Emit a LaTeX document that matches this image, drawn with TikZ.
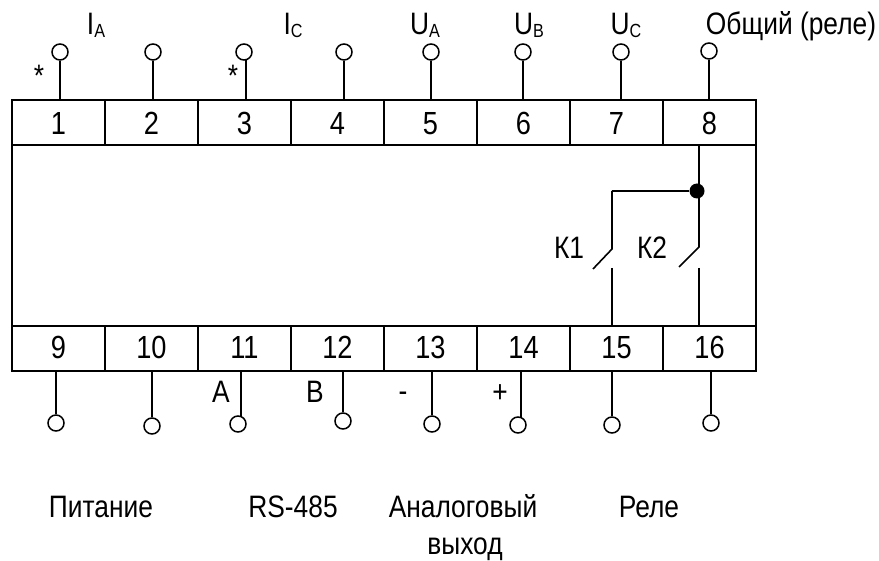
\documentclass[tikz,border=0pt]{standalone}
\usepackage{fontspec}
\setmainfont[FakeStretch=0.85]{Liberation Sans}
\tikzset{
  cell/.style={draw,line width=2pt,minimum width=93pt,minimum height=45pt,inner sep=0pt,text height=23pt,text depth=0pt,font=\fontsize{32}{32}\selectfont},
  lowcell/.style={cell,text depth=3pt},
  term/.style={circle,draw,line width=1.5pt,minimum size=16pt,inner sep=0pt},
  wire/.style={line width=1.6pt},
  lbl/.style={inner sep=0pt,font=\fontsize{31}{31}\selectfont},
  capt/.style={inner sep=0pt,anchor=base,font=\fontsize{31}{31}\selectfont}
}
\newcommand{\sbs}[1]{\raisebox{-3pt}{\fontsize{19}{19}\selectfont #1}}
\begin{document}
\begin{tikzpicture}[x=1pt,y=-1pt]
\useasboundingbox (0,0) rectangle (879,561);
\node[draw,line width=2pt,minimum width=744pt,minimum height=181pt,inner sep=0pt] (body) at (384,235.5) {};
% top row
\node[cell] (c1) at (58.5,122.75) {1};
\node[cell] (c2) at (151.5,122.75) {2};
\node[cell] (c3) at (244.5,122.75) {3};
\node[cell] (c4) at (337.5,122.75) {4};
\node[cell] (c5) at (430.5,122.75) {5};
\node[cell] (c6) at (523.5,122.75) {6};
\node[cell] (c7) at (616.5,122.75) {7};
\node[cell] (c8) at (709.5,122.75) {8};
% bottom row
\node[lowcell] (c9) at (58.5,349) {9};
\node[lowcell] (c10) at (151.5,349) {10};
\node[lowcell] (c11) at (244.5,349) {11};
\node[lowcell] (c12) at (337.5,349) {12};
\node[lowcell] (c13) at (430.5,349) {13};
\node[lowcell] (c14) at (523.5,349) {14};
\node[lowcell] (c15) at (616.5,349) {15};
\node[lowcell] (c16) at (709.5,349) {16};
% top terminals
\node[term] (t1) at (60,52) {};
\node[term] (t2) at (153,52) {};
\node[term] (t3) at (244,52) {};
\node[term] (t4) at (344,52) {};
\node[term] (t5) at (431,52) {};
\node[term] (t6) at (523,52) {};
\node[term] (t7) at (621,52) {};
\node[term] (t8) at (709,51) {};
\draw[wire] (t1) -- (t1 |- c1.north);
\draw[wire] (t2) -- (t2 |- c2.north);
\draw[wire] (t3.285) -- (t3.285 |- c3.north);
\draw[wire] (t4) -- (t4 |- c4.north);
\draw[wire] (t5) -- (t5 |- c5.north);
\draw[wire] (t6) -- (t6 |- c6.north);
\draw[wire] (t7) -- (t7 |- c7.north);
\draw[wire] (t8) -- (t8 |- c8.north);
% bottom terminals
\node[term] (t9) at (56,423) {};
\node[term] (t10) at (152,426) {};
\node[term] (t11) at (238,424) {};
\node[term] (t12) at (343,421) {};
\node[term] (t13) at (432,424) {};
\node[term] (t14) at (518,425) {};
\node[term] (t15) at (612,425) {};
\node[term] (t16) at (711,423) {};
\draw[wire] (t9) -- (t9 |- c9.south);
\draw[wire] (t10) -- (t10 |- c10.south);
\draw[wire] (t11.70) -- (t11.70 |- c11.south);
\draw[wire] (t12) -- (t12 |- c12.south);
\draw[wire] (t13) -- (t13 |- c13.south);
\draw[wire] (t14.70) -- (t14.70 |- c14.south);
\draw[wire] (t15) -- (t15 |- c15.south);
\draw[wire] (t16) -- (t16 |- c16.south);
% relay
\node[circle,fill=black,inner sep=0pt,minimum size=15pt] (dot) at (697,191) {};
\coordinate (k1top) at (612,191);
\coordinate (k1a) at (612,249);
\coordinate (k1b) at (593,269);
\coordinate (k1c) at (612,268);
\coordinate (k2top) at (699,145);
\coordinate (k2a) at (699,247);
\coordinate (k2b) at (679,267);
\coordinate (k2c) at (699,268);
\draw[wire,line width=2pt] (dot) -- (k1top);
\draw[wire] (k1top) -- (k1a) -- (k1b);
\draw[wire] (k2top) -- (k2a) -- (k2b);
\draw[wire] (k1c) -- (k1c |- c15.north);
\draw[wire] (k2c) -- (k2c |- c16.north);
\node[lbl] (k1) at (569,248) {К1};
\node[lbl] (k2) at (652,248) {К2};
% labels
\node[capt] (ia) at (96,35) {I\sbs{A}};
\node[capt] (ic) at (293,35) {I\sbs{C}};
\node[capt] (ua) at (425,35) {U\sbs{A}};
\node[capt] (ub) at (529,35) {U\sbs{B}};
\node[capt] (uc) at (626,35) {U\sbs{C}};
\node[capt] (com) at (791,35) {Общий (реле)};
\node[lbl] (st1) at (39,76) {*};
\node[lbl] (st2) at (233,76) {*};
\node[lbl] (a) at (221,392) {A};
\node[lbl] (b) at (315,392) {B};
\node[lbl] (mi) at (403,397) {-};
\node[lbl] (pl) at (500,394) {+};
\node[capt] (pit) at (101,517) {Питание};
\node[capt] (rs) at (293,517) {RS-485};
\node[capt] (an) at (463,517) {Аналоговый};
\node[capt] (vy) at (465,554) {выход};
\node[capt] (re) at (649,517) {Реле};
\end{tikzpicture}
\end{document}
